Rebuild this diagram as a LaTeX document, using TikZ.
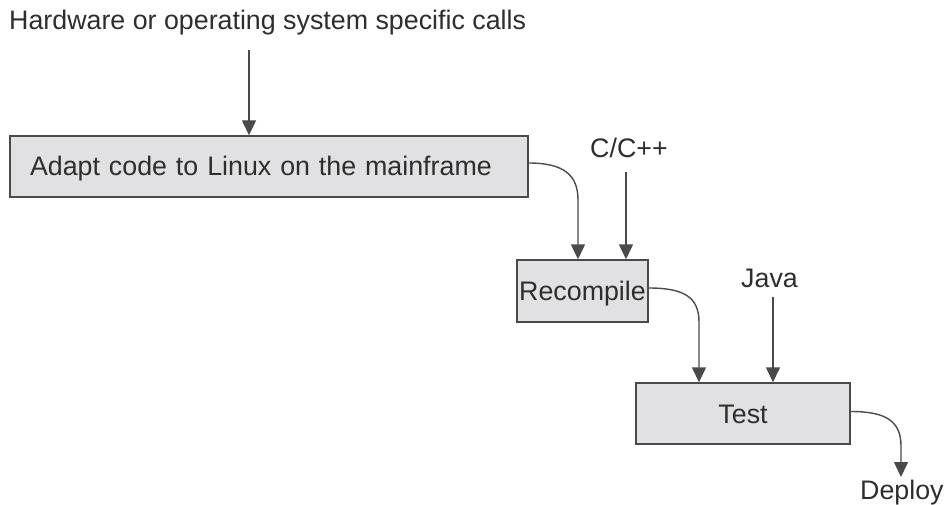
\documentclass[tikz,border=0pt]{standalone}
\usepackage{fontspec}
\setmainfont{Liberation Sans}
\usetikzlibrary{arrows.meta}
\definecolor{txt}{HTML}{2E2E2E}
\definecolor{ln}{HTML}{4A4A4A}
\definecolor{boxfill}{HTML}{E1E1E3}
\begin{document}
\begin{tikzpicture}[x=1pt,y=-1pt,
  every node/.style={font=\fontsize{26.8}{32}\selectfont, text=txt},
  box/.style={draw=ln, line width=1.4pt, fill=boxfill, inner sep=0pt,
    text height=19pt, text depth=0pt},
  lbl/.style={anchor=base west, inner sep=0pt},
  conn/.style={draw=ln, line width=1.4pt, -{Triangle[length=15pt,width=14pt]}}]
\useasboundingbox (0,0) rectangle (945,505);
% boxes
\node[box, minimum width=518pt, minimum height=61pt, text width=478pt, align=left] (adapt) at (269,166.5) {Adapt code to Linux on the mainframe};
\node[box, minimum width=131pt, minimum height=62pt] (recompile) at (582.5,291) {Recompile};
\node[box, minimum width=214pt, minimum height=61pt] (test) at (743,413.5) {Test};
% labels
\node[lbl] (hw) at (9,30) {Hardware or operating system specific calls};
\node[lbl] (cpp) at (590,158) {C/C++};
\node[lbl] (java) at (741,287) {Java};
\node[lbl] (deploy) at (860,499) {Deploy};
% connector start points
\coordinate (hwstart) at (249,50);
\coordinate (cppstart) at (626,172);
\coordinate (javastart) at (773,297);
\coordinate (deploytip) at (901,477);
% connectors
\draw[conn] (hwstart) -- (hwstart |- adapt.north);
\draw[conn] ([yshift=3.5pt]adapt.east) .. controls +(35,0) and +(0,-25) .. (578,200) -- ([xshift=-4.5pt]recompile.north);
\draw[conn] (cppstart) -- (cppstart |- recompile.north);
\draw[conn] ([yshift=3pt]recompile.east) .. controls +(35,0) and +(0,-25) .. (699,322) -- ([xshift=-44pt]test.north);
\draw[conn] (javastart) -- (javastart |- test.north);
\draw[conn] ([yshift=2pt]test.east) .. controls +(35,0) and +(0,-25) .. (901,446) -- (deploytip);
\end{tikzpicture}
\end{document}
